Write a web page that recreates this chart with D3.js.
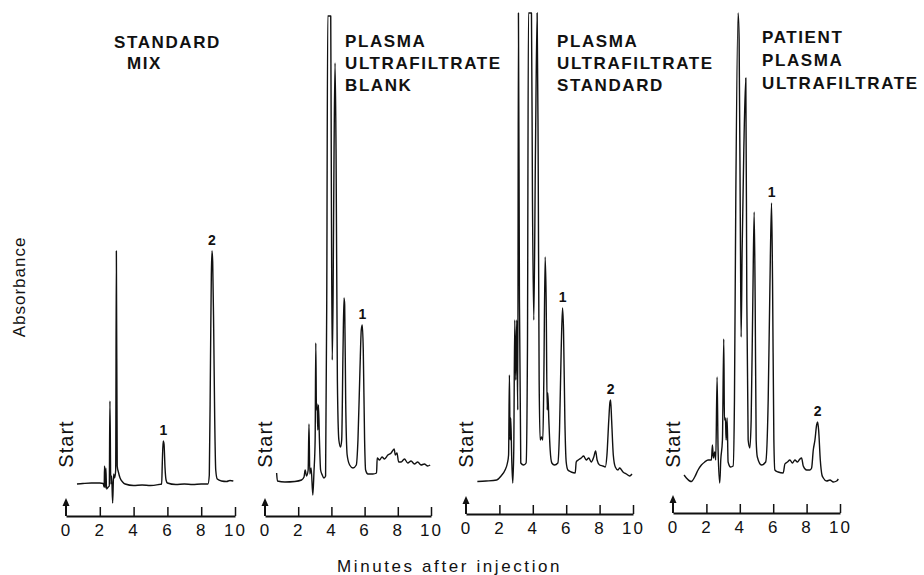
<!DOCTYPE html>
<html>
<head>
<meta charset="utf-8">
<script src="https://cdn.jsdelivr.net/npm/d3@7"></script>
<style>
  body { margin: 0; background: #fff; }
  text { font-family: "Liberation Sans", Arial, sans-serif; fill: #111; }
</style>
</head>
<body>
<div id="chart"></div>
<script>
// time axis ticks (minutes)
const minuteTicks = [0, 2, 4, 6, 8, 10];

// panel titles
const panelTitles = [
  ["STANDARD", "MIX"],
  ["PLASMA", "ULTRAFILTRATE", "BLANK"],
  ["PLASMA", "ULTRAFILTRATE", "STANDARD"],
  ["PATIENT", "PLASMA", "ULTRAFILTRATE"]
];

// traces: [minutes, absorbance (arbitrary units, 100 = off scale)]
const standardMix = [
  [0.65, 3.2], [1.0, 3.3], [1.5, 3.4], [2.0, 3.4], [2.2, 3.3], [2.26, 2.6], [2.28, 6.8],
  [2.32, 2.4], [2.36, 6.4], [2.4, 2.2], [2.5, 2.6], [2.56, 2.8], [2.6, 19.8], [2.65, 3.2],
  [2.7, 4.8], [2.76, -0.6], [2.82, 5.2], [2.88, 4.4], [2.94, 6], [2.98, 49.8], [3.03, 6.8],
  [3.1, 5.6], [3.2, 4.4], [3.35, 3.6], [3.5, 3.2], [4.0, 2.9], [4.5, 3.0], [5.0, 2.9],
  [5.5, 3.1], [5.66, 3.2], [5.7, 7.6], [5.75, 11.8], [5.8, 11.2], [5.86, 6.4], [5.92, 4],
  [6.0, 3.4], [6.5, 3.1], [7.0, 3.2], [7.5, 3.1], [8.0, 3.2], [8.4, 3.2], [8.48, 5],
  [8.55, 28], [8.6, 45], [8.64, 49.8], [8.68, 47.6], [8.74, 34], [8.8, 16], [8.86, 6],
  [8.95, 4.2], [9.2, 3.8], [9.5, 3.7], [9.7, 3.9], [9.9, 3.8]
];

const plasmaBlank = [
  [0.7, 5.4], [0.75, 3.8], [1.2, 3.6], [1.8, 3.7], [2.2, 4], [2.35, 4.6], [2.42, 6],
  [2.5, 4.8], [2.6, 6], [2.65, 15.2], [2.7, 5.2], [2.78, 6.4], [2.88, 1], [2.95, 5.6],
  [3.02, 12], [3.06, 31.4], [3.1, 18], [3.14, 19.2], [3.18, 14], [3.22, 19], [3.28, 12],
  [3.35, 6], [3.45, 5], [3.55, 4.4], [3.65, 4.8], [3.72, 40], [3.78, 96.8], [3.96, 96.8],
  [4.0, 60], [4.05, 28], [4.1, 40], [4.16, 70], [4.22, 87.4], [4.28, 70], [4.36, 24],
  [4.45, 12], [4.55, 10.6], [4.62, 12], [4.7, 30], [4.76, 40.4], [4.8, 39], [4.86, 20],
  [4.95, 9], [5.1, 7], [5.3, 6.4], [5.5, 7], [5.6, 12], [5.72, 26], [5.8, 34], [5.86, 35],
  [5.92, 30], [6.0, 12], [6.06, 6], [6.2, 5.2], [6.5, 5.2], [6.72, 5.4], [6.76, 8.4],
  [6.9, 8], [7.05, 8.6], [7.2, 8.2], [7.4, 9], [7.6, 9.4], [7.78, 10.2], [7.85, 9],
  [7.95, 9.4], [8.05, 7.6], [8.2, 7.6], [8.4, 8.2], [8.6, 7.4], [8.8, 7.8], [9.0, 7.2],
  [9.2, 7.6], [9.4, 7], [9.6, 7.2], [9.8, 6.8], [9.95, 7]
];

const plasmaStandard = [
  [0.68, 3.7], [1.2, 3.8], [1.84, 4], [2.1, 4.8], [2.34, 6], [2.48, 7.4], [2.55, 9],
  [2.6, 25], [2.64, 12], [2.68, 16.4], [2.74, 8], [2.8, 3.4], [2.86, 10], [2.92, 36],
  [2.98, 24], [3.04, 36], [3.1, 18], [3.14, 97.4], [3.2, 40], [3.28, 7.4], [3.45, 7],
  [3.6, 7.4], [3.68, 30], [3.74, 97.4], [3.92, 97.4], [3.98, 60], [4.06, 36], [4.16, 70],
  [4.26, 97.4], [4.32, 70], [4.38, 24], [4.44, 12], [4.52, 12.6], [4.6, 12], [4.66, 24],
  [4.74, 48.6], [4.8, 40], [4.86, 18], [4.9, 21.4], [4.96, 16], [5.04, 10], [5.14, 7.4],
  [5.3, 7], [5.5, 7.4], [5.6, 14], [5.7, 30], [5.78, 38.4], [5.84, 34], [5.92, 16],
  [6.0, 7.6], [6.1, 6], [6.3, 5.6], [6.54, 5.4], [6.6, 7.6], [6.72, 8], [6.9, 8.4],
  [7.04, 8.8], [7.2, 8], [7.35, 8.4], [7.5, 7.6], [7.65, 8.6], [7.76, 9.8], [7.85, 8],
  [8.0, 7], [8.2, 6.8], [8.34, 6.6], [8.44, 9], [8.55, 16], [8.62, 19.6], [8.66, 20],
  [8.72, 16], [8.82, 9], [8.94, 6.6], [9.1, 6], [9.2, 6.4], [9.4, 5.6], [9.6, 5.2],
  [9.8, 4.8], [9.94, 5.2]
];

const patientPlasma = [
  [0.66, 5], [0.8, 4.4], [1.0, 3.8], [1.1, 3.7], [1.3, 4.6], [1.5, 6], [1.7, 7], [1.9, 7.6],
  [2.1, 8], [2.3, 8], [2.36, 11], [2.42, 8.4], [2.5, 9.6], [2.56, 8], [2.64, 24.6], [2.7, 10],
  [2.8, 3.4], [2.86, 8], [2.96, 12], [3.04, 32.2], [3.08, 16], [3.14, 16.4], [3.18, 12],
  [3.24, 16.4], [3.3, 7.6], [3.45, 6.6], [3.6, 6.8], [3.68, 20], [3.76, 60], [3.9, 97.4],
  [3.96, 92], [4.04, 50], [4.08, 32.6], [4.14, 50], [4.24, 70], [4.36, 84.4], [4.42, 40],
  [4.5, 12], [4.6, 10.4], [4.68, 16], [4.78, 40], [4.86, 57.6], [4.92, 40], [4.98, 12],
  [5.05, 8.6], [5.3, 7], [5.55, 7.6], [5.7, 20], [5.8, 42], [5.9, 59.4], [5.96, 44],
  [6.04, 12], [6.1, 6], [6.3, 5.6], [6.6, 5.4], [6.7, 7.2], [6.85, 7.6], [7.0, 8],
  [7.15, 7.4], [7.3, 8], [7.45, 7.6], [7.6, 8.2], [7.7, 8.4], [7.8, 6.8], [8.0, 6],
  [8.2, 6], [8.3, 6.4], [8.4, 10], [8.5, 12], [8.6, 15], [8.66, 15.6], [8.72, 14],
  [8.82, 8], [8.92, 5], [9.0, 4.4], [9.2, 3.8], [9.4, 4], [9.6, 3.6], [9.8, 3.8], [9.9, 4.2]
];

const traces = [standardMix, plasmaBlank, plasmaStandard, patientPlasma];

// numbered peaks: [label, minutes, absorbance of apex]
const peakLabels = [
  [["1", 5.76, 11.8], ["2", 8.64, 49.8]],
  [["1", 5.86, 35]],
  [["1", 5.78, 38.4], ["2", 8.66, 20]],
  [["1", 5.9, 59.4], ["2", 8.66, 15.6]]
];

// layout of the four panels on the page
const layout = [
  { x0: 66,  x1: 235, axisY: 516, titleX: 114, titleY: [48, 69], indent: [0, 13] },
  { x0: 265, x1: 431, axisY: 516, titleX: 345, titleY: [47, 69, 91], indent: [0, 0, 0] },
  { x0: 466, x1: 633, axisY: 514, titleX: 557, titleY: [47, 69, 91], indent: [0, 0, 0] },
  { x0: 673, x1: 840, axisY: 513, titleX: 762, titleY: [43, 66, 89], indent: [0, 0, 0] }
];

const width = 924, height = 575;

const svg = d3.select("#chart").append("svg")
  .attr("width", width)
  .attr("height", height);

const y = d3.scaleLinear().domain([0, 100]).range([500, 0]);

const line = d3.line()
  .x(d => d[0])
  .y(d => y(d[1]))
  .curve(d3.curveMonotoneX);

layout.forEach((p, i) => {
  const x = d3.scaleLinear().domain([0, 10]).range([p.x0, p.x1]);
  const g = svg.append("g");

  // trace
  g.append("path")
    .datum(traces[i].map(d => [x(d[0]), d[1]]))
    .attr("d", line)
    .attr("fill", "none")
    .attr("stroke", "#111")
    .attr("stroke-width", 1.4)
    .attr("stroke-linejoin", "round");

  // time axis, ticks pointing up
  const axis = g.append("g")
    .attr("transform", `translate(0,${p.axisY})`)
    .call(d3.axisBottom(x).tickValues(minuteTicks).tickSize(-9).tickSizeOuter(0).tickPadding(8));
  axis.select(".domain").attr("stroke", "#111").attr("stroke-width", 2);
  axis.selectAll(".tick line").attr("stroke", "#111").attr("stroke-width", 1.5)
    .filter(d => d === 0).remove();
  axis.selectAll(".tick text")
    .attr("font-size", 17)
    .attr("letter-spacing", 2)
    .attr("font-family", "Liberation Sans, Arial, sans-serif")
    .attr("fill", "#111");

  // start arrow at t = 0
  g.append("line")
    .attr("x1", x(0)).attr("x2", x(0))
    .attr("y1", p.axisY).attr("y2", p.axisY - 12)
    .attr("stroke", "#111").attr("stroke-width", 2);
  g.append("path")
    .attr("d", `M${x(0) - 3.5},${p.axisY - 10}L${x(0)},${p.axisY - 18}L${x(0) + 3.5},${p.axisY - 10}Z`)
    .attr("fill", "#111");

  // "Start"
  g.append("text")
    .attr("transform", `translate(${x(0) + 7},444) rotate(-90)`)
    .attr("text-anchor", "middle")
    .attr("font-size", 20)
    .attr("letter-spacing", 1)
    .text("Start");

  // title
  panelTitles[i].forEach((t, k) => {
    g.append("text")
      .attr("x", p.titleX + p.indent[k])
      .attr("y", p.titleY[k])
      .attr("font-size", 17)
      .attr("font-weight", "bold")
      .attr("letter-spacing", 1.6)
      .text(t);
  });

  // peak numbers
  g.selectAll(".peak")
    .data(peakLabels[i])
    .join("text")
    .attr("class", "peak")
    .attr("x", d => x(d[1]))
    .attr("y", d => y(d[2]) - 6)
    .attr("text-anchor", "middle")
    .attr("font-size", 14)
    .attr("font-weight", "bold")
    .text(d => d[0]);
});

// axis titles
svg.append("text")
  .attr("transform", "translate(25,287) rotate(-90)")
  .attr("text-anchor", "middle")
  .attr("font-size", 17)
  .attr("letter-spacing", 1)
  .text("Absorbance");

svg.append("text")
  .attr("x", 337)
  .attr("y", 572)
  .attr("font-size", 17)
  .attr("letter-spacing", 2.6)
  .text("Minutes after injection");
</script>
</body>
</html>
